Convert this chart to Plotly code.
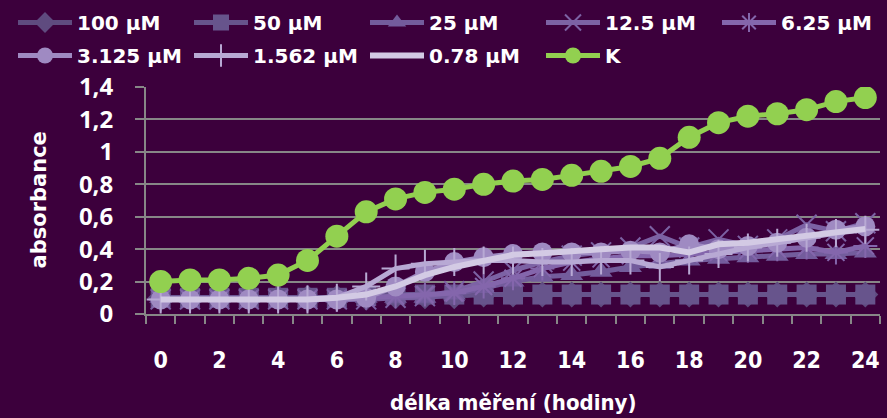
import plotly.graph_objects as go

# Measurement times (hours)
hours = list(range(25))

# Absorbance readings per concentration
c100 = [0.10, 0.10, 0.10, 0.10, 0.10, 0.10, 0.10, 0.10, 0.11, 0.11, 0.11, 0.12, 0.12,
        0.12, 0.12, 0.12, 0.12, 0.12, 0.12, 0.12, 0.12, 0.12, 0.12, 0.12, 0.12]
c50 = [0.10, 0.10, 0.10, 0.10, 0.10, 0.10, 0.10, 0.11, 0.12, 0.12, 0.12, 0.12, 0.12,
       0.12, 0.12, 0.12, 0.12, 0.12, 0.12, 0.12, 0.12, 0.12, 0.12, 0.12, 0.12]
c25 = [0.10, 0.10, 0.10, 0.10, 0.10, 0.10, 0.10, 0.10, 0.10, 0.10, 0.12, 0.16, 0.20,
       0.23, 0.24, 0.26, 0.29, 0.31, 0.33, 0.34, 0.35, 0.36, 0.37, 0.37, 0.38]
c12_5 = [0.09, 0.09, 0.09, 0.09, 0.09, 0.09, 0.09, 0.09, 0.10, 0.11, 0.14, 0.20, 0.27,
         0.32, 0.36, 0.38, 0.41, 0.48, 0.41, 0.46, 0.42, 0.46, 0.55, 0.51, 0.56]
c6_25 = [0.09, 0.09, 0.09, 0.09, 0.09, 0.09, 0.09, 0.10, 0.11, 0.12, 0.13, 0.17, 0.22,
         0.28, 0.32, 0.34, 0.36, 0.36, 0.37, 0.38, 0.39, 0.40, 0.41, 0.38, 0.42]
c3_125 = [0.09, 0.09, 0.09, 0.09, 0.09, 0.09, 0.09, 0.10, 0.17, 0.26, 0.32, 0.35, 0.37,
          0.38, 0.38, 0.38, 0.39, 0.38, 0.43, 0.40, 0.42, 0.44, 0.47, 0.52, 0.54]
c1_562 = [0.09, 0.09, 0.09, 0.09, 0.09, 0.09, 0.10, 0.17, 0.28, 0.31, 0.32, 0.33, 0.33,
          0.32, 0.32, 0.33, 0.33, 0.29, 0.33, 0.37, 0.41, 0.44, 0.47, 0.50, 0.52]
c0_78 = [0.09, 0.09, 0.09, 0.09, 0.09, 0.09, 0.10, 0.12, 0.17, 0.24, 0.29, 0.33, 0.365,
         0.375, 0.39, 0.40, 0.41, 0.41, 0.38, 0.43, 0.44, 0.46, 0.48, 0.505, 0.525]
control = [0.20, 0.21, 0.21, 0.22, 0.24, 0.33, 0.48, 0.63, 0.71, 0.75, 0.77, 0.80, 0.82,
           0.83, 0.855, 0.88, 0.91, 0.96, 1.09, 1.18, 1.22, 1.235, 1.26, 1.31, 1.335]

y_ticks = [0, 0.2, 0.4, 0.6, 0.8, 1.0, 1.2, 1.4]
y_tick_text = ["0", "0,2", "0,4", "0,6", "0,8", "1", "1,2", "1,4"]
x_ticks = list(range(0, 25, 2))

BG = "#3c003c"
GRID = "#878787"
W, H = 887, 418

# name, values, colour, marker symbol, marker size, thin symbol
series = [
    ("100 µM", c100, "#5f4b7f", "diamond", 20, False),
    ("50 µM", c50, "#67548c", "square", 20, False),
    ("25 µM", c25, "#735c9c", "triangle-up", 20, False),
    ("12.5 µM", c12_5, "#7c62a4", "x-thin-open", 20, True),
    ("6.25 µM", c6_25, "#8466ac", "asterisk-open", 20, True),
    ("3.125 µM", c3_125, "#9f8ac2", "circle", 20, False),
    ("1.562 µM", c1_562, "#b8a9d4", "cross-thin-open", 20, True),
    ("0.78 µM", c0_78, "#d3cae4", None, 0, False),
    ("K", control, "#92d050", "circle", 23, False),
]

# Legend grid: five entries on the first row, four on the second
legend_cols_px = [13, 189, 365, 541, 717]
legend_rows_px = [3, 36]

legend_font = dict(family="DejaVu Sans", size=20, color="white", weight="bold")
legend_layouts = {}

fig = go.Figure()
for i, (name, vals, color, symbol, size, thin) in enumerate(series):
    leg = "legend" if i == 0 else f"legend{i + 1}"
    row, col = divmod(i, 5)
    legend_layouts[leg] = dict(
        xref="container", yref="container",
        x=legend_cols_px[col] / W, y=1 - legend_rows_px[row] / H,
        xanchor="left", yanchor="top", orientation="h",
        font=legend_font, bgcolor="rgba(0,0,0,0)", itemwidth=54,
    )
    if symbol is None:
        fig.add_trace(go.Scatter(x=hours, y=vals, name=name, mode="lines", legend=leg,
                                 line=dict(color=color, width=6)))
    else:
        marker = dict(symbol=symbol, size=size, color=color)
        if thin:
            marker["line"] = dict(color=color, width=2)
        fig.add_trace(go.Scatter(x=hours, y=vals, name=name, mode="lines+markers",
                                 legend=leg, line=dict(color=color, width=5),
                                 marker=marker))

fig.update_layout(
    width=W, height=H,
    paper_bgcolor=BG, plot_bgcolor=BG,
    margin=dict(l=146, r=7, t=87, b=104, autoexpand=False),
    font=dict(color="white", family="DejaVu Sans"),
    showlegend=True,
    xaxis=dict(
        range=[-0.5, 24.5], tickmode="array", tickvals=x_ticks,
        ticks="", showgrid=False, zeroline=False,
        showline=True, linecolor=GRID, linewidth=2,
        ticklabelstandoff=24,
        tickfont=dict(family="Liberation Sans Narrow, DejaVu Sans Condensed, sans-serif",
                      size=23, color="white", weight="bold"),
        minor=dict(tickmode="linear", tick0=0.5, dtick=1, ticks="outside",
                   ticklen=8, tickwidth=2, tickcolor=GRID, showgrid=False),
    ),
    yaxis=dict(
        range=[0, 1.4], tickmode="array", tickvals=y_ticks, ticktext=y_tick_text,
        ticks="outside", ticklen=9, tickwidth=2, tickcolor=GRID,
        showgrid=True, gridcolor=GRID, gridwidth=2, zeroline=False,
        showline=True, linecolor=GRID, linewidth=2,
        ticklabelstandoff=17,
        tickfont=dict(family="Open Sans", size=24, color="white", weight="bold"),
    ),
    annotations=[
        dict(text="délka měření (hodiny)", xref="paper", yref="paper", x=0.5, y=0,
             yshift=-88, xanchor="center", yanchor="middle", showarrow=False,
             font=dict(family="Liberation Sans Narrow, DejaVu Sans Condensed, sans-serif",
                       size=22, color="white", weight="bold")),
        dict(text="absorbance", xref="paper", yref="paper", x=0, y=0.5,
             xshift=-108, textangle=-90, xanchor="center", yanchor="middle",
             showarrow=False,
             font=dict(family="DejaVu Sans", size=21, color="white", weight="bold")),
    ],
)
fig.update_layout(**legend_layouts)

fig.write_html("out.html")
